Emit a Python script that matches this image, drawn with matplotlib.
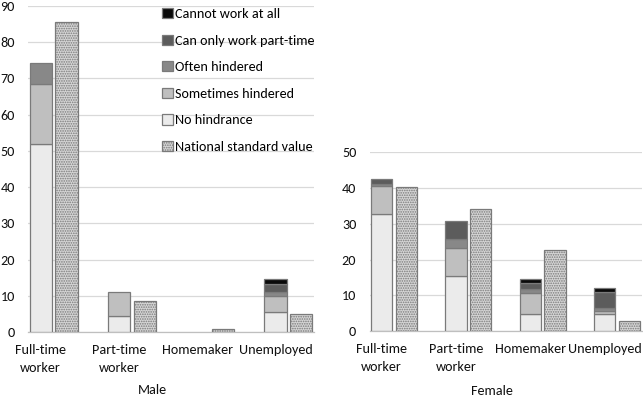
import matplotlib
matplotlib.use("Agg")
import matplotlib.pyplot as plt
import numpy as np

plt.rcParams['font.family'] = ['Carlito', 'DejaVu Sans']
plt.rcParams['hatch.color'] = '#a6a6a6'
plt.rcParams['hatch.linewidth'] = 0.8

categories = ["Full-time\nworker", "Part-time\nworker", "Homemaker", "Unemployed"]
series_names = ["No hindrance", "Sometimes hindered", "Often hindered",
                "Can only work part-time", "Cannot work at all"]

male_no_hindrance = [51.8, 4.5, 0.0, 5.5]
male_sometimes = [16.8, 6.6, 0.0, 4.5]
male_often = [5.8, 0.0, 0.0, 1.0]
male_part_time_only = [0.0, 0.0, 0.0, 2.3]
male_cannot = [0.0, 0.0, 0.0, 1.3]
male_national = [85.7, 8.6, 0.8, 5.0]

female_no_hindrance = [32.8, 15.3, 4.7, 4.7]
female_sometimes = [7.7, 7.8, 6.0, 1.0]
female_often = [0.7, 2.7, 1.0, 0.6]
female_part_time_only = [1.3, 5.1, 1.8, 4.7]
female_cannot = [0.0, 0.0, 1.0, 1.0]
female_national = [40.3, 34.2, 22.6, 2.8]

colors = ['#ebebeb', '#bfbfbf', '#888888', '#5c5c5c', '#0a0a0a']
edge = '#7a7a7a'
FS = 10.2
TXT = '#111111'

fig = plt.figure(figsize=(6.43, 3.97), dpi=100)
ax_m = fig.add_axes([28/643, 1-332/397, 286/643, 326/397])
ax_f = fig.add_axes([369.5/643, 1-331/397, 272/643, 178.7/397])

bw = 0.285
gap = 0.045

def draw(ax, stacks, national, ymax, ystep):
    x = np.arange(len(categories))
    left_x = x - (bw + gap) / 2
    right_x = x + (bw + gap) / 2
    bottom = np.zeros(len(categories))
    handles = []
    for vals, c, name in zip(stacks, colors, series_names):
        vals = np.array(vals, dtype=float)
        nz = vals > 0
        h = ax.bar(left_x[nz], vals[nz], bw, bottom=bottom[nz], color=c, edgecolor=edge,
                   linewidth=0.9, label=name, zorder=3)
        handles.append(h)
        bottom = bottom + vals
    hn = ax.bar(right_x, national, bw, color='#d6d6d6', edgecolor=edge,
                linewidth=0.9, hatch='.......', label="National standard value", zorder=3)
    ax.set_ylim(0, ymax)
    ax.set_yticks(np.arange(0, ymax + 1, ystep))
    ax.set_xlim(-bw - gap / 2 - 0.02, 3 + bw + gap / 2 + 0.02)
    ax.set_xticks(left_x)
    ax.set_xticklabels(categories, fontsize=FS, color=TXT, linespacing=1.6)
    ax.tick_params(axis='x', length=0, pad=8.7)
    ax.tick_params(axis='y', length=0, pad=9.5, labelsize=FS, labelcolor=TXT)
    ax.grid(axis='y', color='#d9d9d9', linewidth=0.9, zorder=0)
    ax.set_axisbelow(True)
    for s in ['top', 'right', 'left']:
        ax.spines[s].set_visible(False)
    ax.spines['bottom'].set_color('#bfbfbf')
    ax.spines['bottom'].set_linewidth(0.9)
    return handles, hn

h_m, hn_m = draw(ax_m, [male_no_hindrance, male_sometimes, male_often,
                        male_part_time_only, male_cannot], male_national, 90, 10)
draw(ax_f, [female_no_hindrance, female_sometimes, female_often,
            female_part_time_only, female_cannot], female_national, 50, 10)

leg_handles = list(reversed(h_m)) + [hn_m]
leg_labels = list(reversed(series_names)) + ["National standard value"]
ax_m.legend(leg_handles, leg_labels, loc='upper left', bbox_to_anchor=(0.47, 0.994),
            frameon=False, fontsize=FS, handlelength=0.75, handleheight=0.75,
            handletextpad=0.15, labelspacing=1.02, borderaxespad=0, borderpad=0)

fig.text(152.7/643, 1-390/397, "Male", ha='center', va='center', fontsize=FS, color=TXT)
fig.text(491.7/643, 1-390.7/397, "Female", ha='center', va='center', fontsize=FS, color=TXT)

fig.savefig("out.png", dpi=100)
